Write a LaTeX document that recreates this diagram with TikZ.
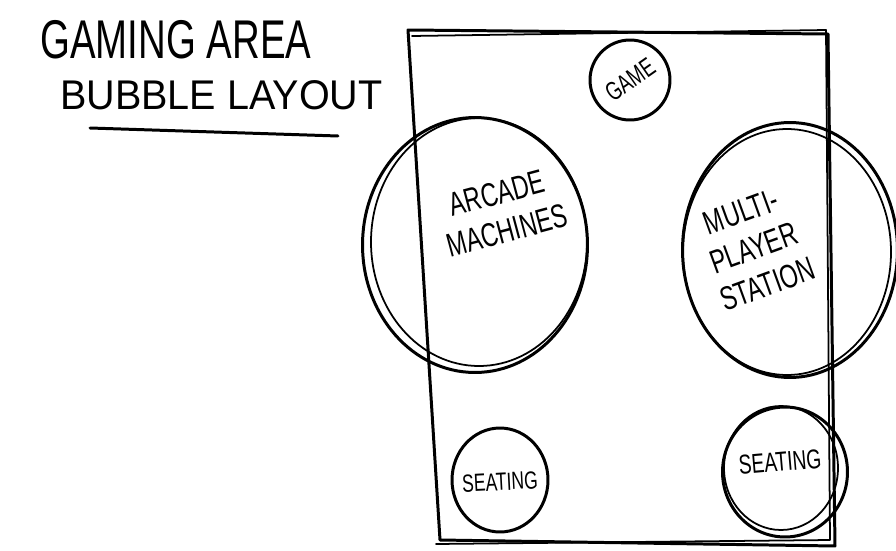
\documentclass[tikz,border=0pt]{standalone}
\usepackage{fontspec}
\setmainfont{Liberation Sans}
\usetikzlibrary{shapes.geometric}
\newcommand{\tall}[1]{\scalebox{0.95}[1.35]{#1}}

\begin{document}
\begin{tikzpicture}[x=0.02cm,y=-0.02cm,
  sketch/.style={line width=1.7pt,line cap=round,line join=round},
  bubble/.style={draw,ellipse,line width=1.7pt,inner sep=0pt},
  tag/.style={align=center,inner sep=0pt,font=\fontsize{14}{22}\selectfont},
  title/.style={anchor=west,inner sep=0pt}
]
\useasboundingbox (0,0) rectangle (896,551);

% heading
\node[title,font=\fontsize{23}{26}\selectfont] (head1) at (40,40) {\tall{GAMING AREA}};
\node[title,font=\fontsize{22.5}{24}\selectfont] (head2) at (60,95) {\scalebox{1}[1.05]{BUBBLE LAYOUT}};
\draw[sketch] (90,128) -- (338,136);

% room outline
\draw[sketch] (408,30) -- (828,34) -- (835,546) -- (440,540) -- cycle;
\draw[sketch,line width=1pt] (412,36) -- (826,30) -- (830,540) -- (436,544);

% bubbles
\node[bubble,minimum width=1.6cm,minimum height=1.6cm] (game) at (630,80) {};
\node[bubble,minimum width=4.5cm,minimum height=5.1cm] (arcade) at (475,245) {};
\draw[sketch,line width=1pt] (arcade.center) ++(4,-3) ellipse (108 and 124);
\node[bubble,minimum width=4.3cm,minimum height=5.1cm] (multi) at (790,250) {};
\draw[sketch,line width=1pt] (multi.center) ++(-3,2) ellipse (104 and 123);
\node[bubble,minimum width=1.92cm,minimum height=2.08cm] (seatA) at (500,480) {};
\node[bubble,minimum width=2.5cm,minimum height=2.6cm] (seatB) at (785,472) {};
\draw[sketch,line width=1pt] (seatB.center) ++(-4,-4) ellipse (57 and 62);

% bubble texts
\node[tag,font=\fontsize{11}{13}\selectfont,rotate=35] (gametxt) at (game) {\tall{GAME}};
\node[tag,rotate=15] (arcadetxt) at (502,212) {\tall{ARCADE}\\\tall{MACHINES}};
\node[tag,rotate=20] (multitxt) at (754,248) {\tall{MULTI-}\\\tall{PLAYER}\\\tall{STATION}};
\node[tag,font=\fontsize{10.5}{12}\selectfont,rotate=3] (seatAtxt) at (500,482) {\tall{SEATING}};
\node[tag,font=\fontsize{11.5}{13}\selectfont,rotate=5] (seatBtxt) at (780,462) {\tall{SEATING}};
\end{tikzpicture}
\end{document}
